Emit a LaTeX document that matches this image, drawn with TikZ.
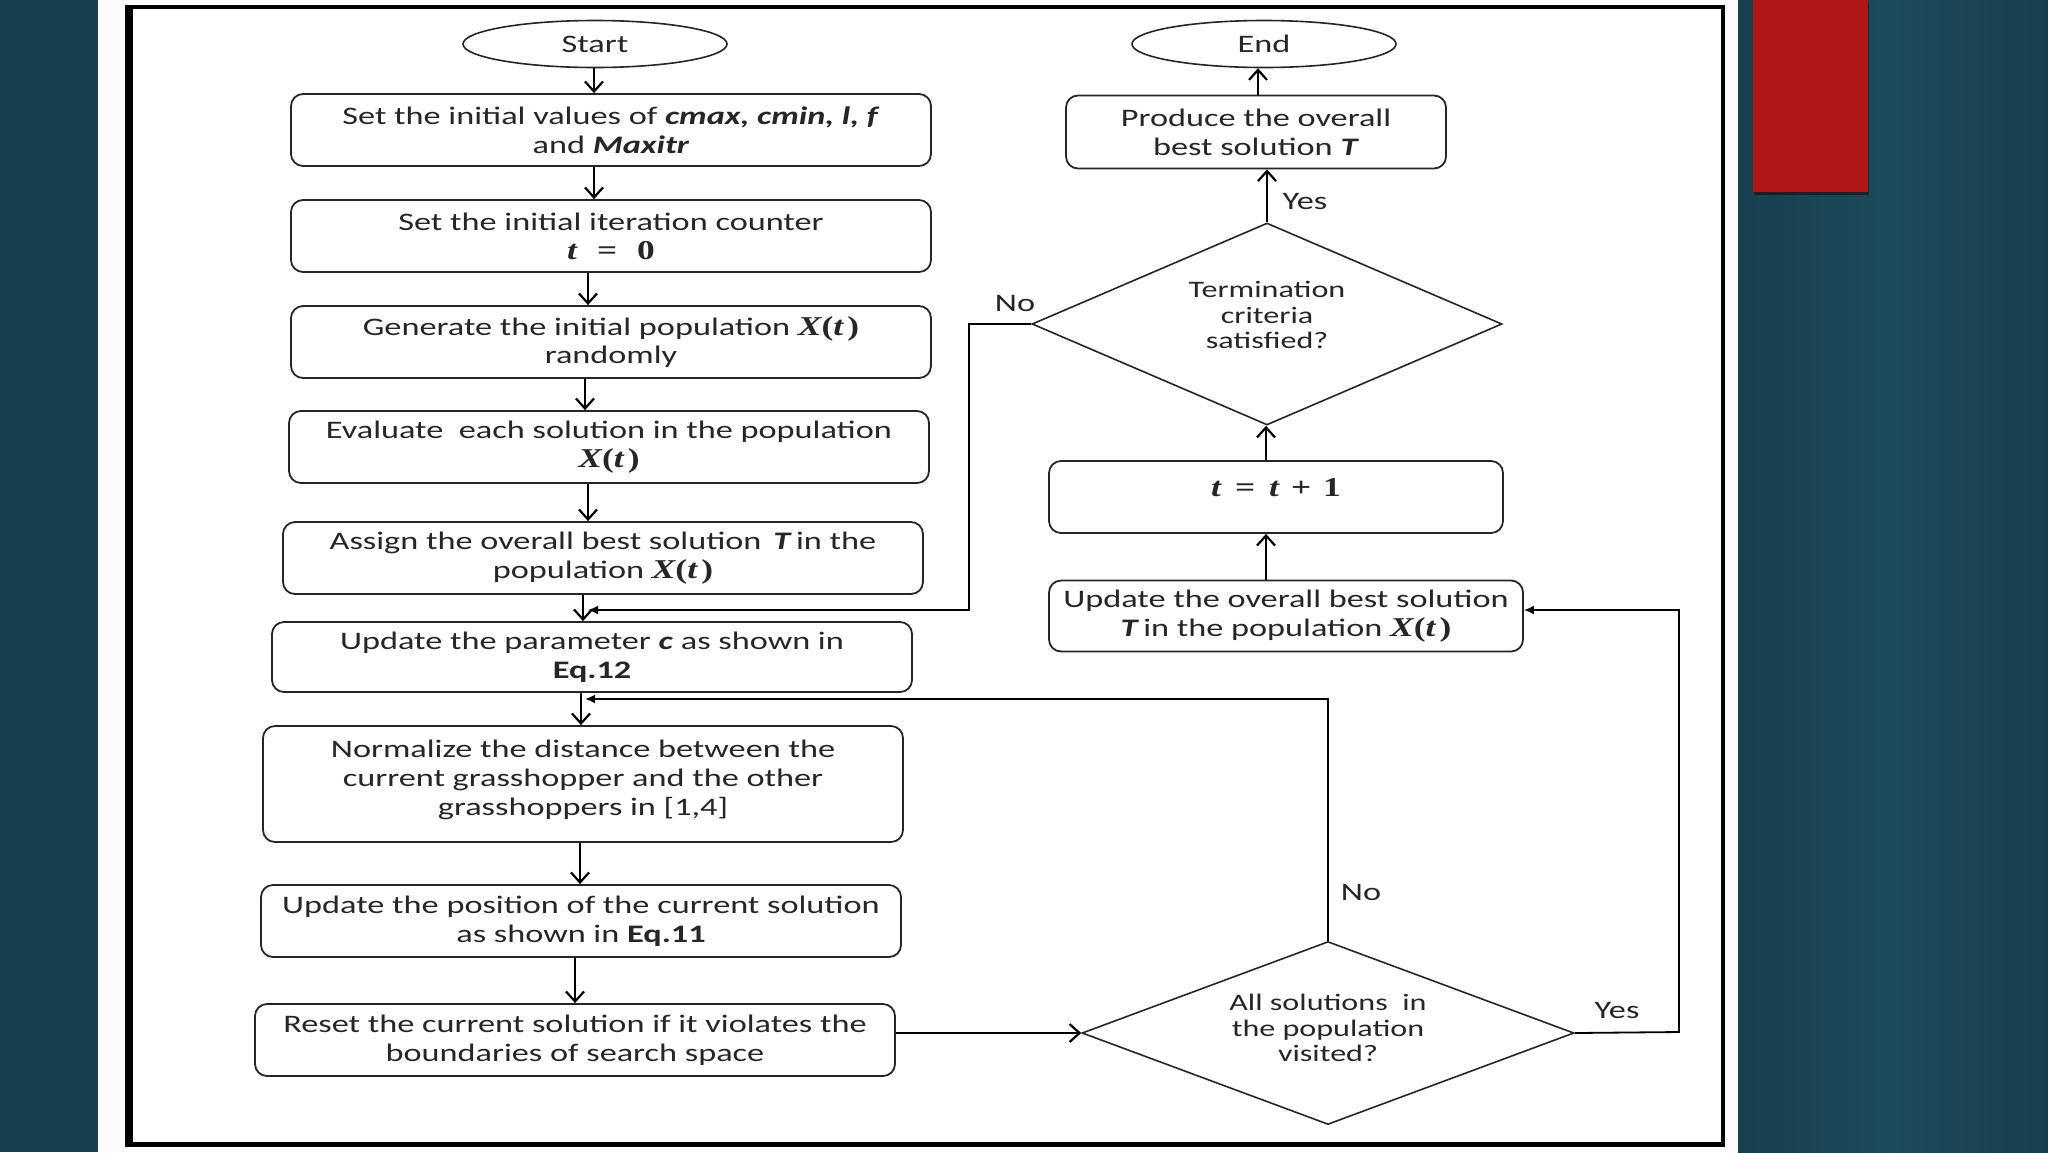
\documentclass[tikz,border=0pt]{standalone}
\usepackage[no-math]{fontspec}
\setmainfont{Carlito}[FakeStretch=1.36]
\newfontfamily\mfont{Liberation Serif}[FakeStretch=1.3]
\usetikzlibrary{arrows.meta,shapes.geometric}
\definecolor{teal1}{HTML}{173F4F}
\definecolor{teal2}{HTML}{1C4B5B}
\definecolor{slidered}{HTML}{B01615}
\definecolor{ink}{HTML}{262626}
\newcommand{\lbl}{\fontsize{12.6}{14.4}\selectfont}
\newcommand{\dlbl}{\fontsize{11.8}{12.8}\selectfont}
\newcommand{\bi}[1]{\textbf{\textit{#1}}}
\newcommand{\mv}[1]{{\mfont\fontsize{13.6}{14.4}\selectfont\bfseries\itshape #1}}
\newcommand{\mr}[1]{{\mfont\fontsize{13.6}{14.4}\selectfont\bfseries #1}}
\newcommand{\Xt}{\mv{X}\mr{(}\mv{t}\,\mr{)}}
\begin{document}
\begin{tikzpicture}[x=0.5pt,y=-0.5pt,
  box/.style={draw=ink, line width=0.9pt, rounded corners=6pt, minimum width=320pt,
    minimum height=36pt, align=center, inner sep=0pt, font=\lbl, text=ink},
  term/.style={draw=ink, line width=0.8pt, ellipse, minimum width=132pt, minimum height=23.5pt,
    inner sep=0pt, font=\lbl, text=ink},
  dec/.style={draw=ink, line width=0.8pt, diamond, inner sep=0pt, align=center, font=\dlbl, text=ink},
  txt/.style={inner sep=0pt, align=center, font=\lbl, text=ink},
  dtxt/.style={inner sep=0pt, align=center, font=\dlbl, text=ink},
  arr/.style={draw=black, line width=1.1pt, -{Straight Barb[length=5pt,width=9pt]}},
  farr/.style={draw=black, line width=0.9pt, -{Latex[length=5pt,width=4.5pt]}},
  lab/.style={inner sep=0pt, font=\lbl, text=ink}]
% background
\useasboundingbox (0,0) rectangle (2048,1152);
\fill[teal1] (0,0) rectangle (2048,1152);
\shade[left color=teal1, right color=teal1, middle color=teal2] (1738,0) rectangle (2048,1152);
\fill[white!97!gray] (98,0) rectangle (1738,1152);
\fill[white] (129,9) rectangle (1721,1143);
\fill[black, opacity=0.45] (1754,2) rectangle (1869,195);
\fill[slidered] (1753,0) rectangle (1868,192);
% frame
\draw[black, line width=2pt] (127,7) rectangle (1723,1145);
\fill[black] (125,5) rectangle (133,1147);
\fill[black] (125,1142) rectangle (1725,1147);
% left column
\node[term] (start) at (595,44) {Start};
\node[box] (b1) at (611,130) {Set the initial values of \bi{cmax, cmin, l, f}\\ and \bi{Maxitr}};
\node[box] (b2) at (611,236) {Set the initial iteration counter\\ \mv{t}\hspace{10pt}\mr{=}\hspace{10pt}\mr{0}};
\node[box] (b3) at (611,342) {Generate the initial population \Xt\\ randomly};
\node[box] (b4) at (609,447) {Evaluate \ each solution in the population\\ \Xt};
\node[box] (b5) at (603,558) {Assign the overall best solution \,\bi{T}\,in the\\ population \Xt};
\node[box, minimum height=35pt] (b6) at (592,657) {Update the parameter \bi{c} as shown in\\ \textbf{Eq.12}};
\node[box, minimum height=58pt] (b7) at (583,784) {};
\node[txt] (b7t) at (583,780) {Normalize the distance between the\\ current grasshopper and the other\\ grasshoppers in [1,4]};
\node[box] (b8) at (581,921) {Update the position of the current solution\\ as shown in \textbf{Eq.11}};
\node[box] (b9) at (575,1040) {Reset the current solution if it violates the\\ boundaries of search space};
% right column
\node[term] (end) at (1264,44) {End};
\node[box, minimum width=190pt, minimum height=36.5pt] (prod) at (1256,132) {Produce the overall\\ best solution \bi{T}};
\node[dec, minimum width=235pt, minimum height=101pt] (td) at (1267,324) {};
\node[dtxt] (tdt) at (1267,315) {Termination\\ criteria\\ satisfied?};
\node[box, minimum width=227pt] (tt) at (1276,497) {};
\node[txt] (ttt) at (1276,488) {\mv{t}\hspace{7pt}\mr{=}\hspace{7pt}\mv{t}\hspace{6pt}\mr{+}\hspace{6pt}\mr{1}};
\node[box, minimum width=237pt, minimum height=35.5pt] (upd) at (1286,616) {Update the overall best solution\\ \bi{T}\,in the population \Xt};
\node[dec, minimum width=246pt, minimum height=91.5pt] (ad) at (1328,1033) {};
\node[dtxt] (adt) at (1328,1028) {All solutions \ in\\ the population\\ visited?};
% helper x positions
\coordinate (x1) at (594,0);
\coordinate (x2) at (594,0);
\coordinate (x3) at (588,0);
\coordinate (x4) at (585,0);
\coordinate (x5) at (588,0);
\coordinate (x6) at (583,0);
\coordinate (x7) at (581,0);
\coordinate (x8) at (580,0);
\coordinate (x9) at (575,0);
\coordinate (xr1) at (1258,0);
\coordinate (xr3) at (1266,0);
% left arrows
\draw[arr] (start.south -| x1) -- (b1.north -| x1);
\draw[arr] (b1.south -| x2) -- (b2.north -| x2);
\draw[arr] (b2.south -| x3) -- (b3.north -| x3);
\draw[arr] (b3.south -| x4) -- (b4.north -| x4);
\draw[arr] (b4.south -| x5) -- (b5.north -| x5);
\draw[arr] (b5.south -| x6) -- (b6.north -| x6);
\draw[arr] (b6.south -| x7) -- (b7.north -| x7);
\draw[arr] (b7.south -| x8) -- (b8.north -| x8);
\draw[arr] (b8.south -| x9) -- (b9.north -| x9);
% right arrows
\draw[arr] (prod.north -| xr1) -- (end.south -| xr1);
\draw[arr] (td.north) -- (prod.south -| td.north);
\draw[arr] (tt.north -| xr3) -- (td.south -| xr3);
\draw[arr] (upd.north -| xr3) -- (tt.south -| xr3);
% loops
\coordinate (j1) at (588,610);
\coordinate (j2) at (585,699);
\draw[farr] (td.west) -- (969,324) -- (969,610) -- (j1);
\draw[farr] (ad.north) -- (ad.north |- j2) -- (j2);
\draw[farr] (ad.east) -- (1679,1032) -- (1679,610) -- (upd.east |- 0,610);
\draw[arr] (b9.east |- ad.west) -- (ad.west);
% labels
\node[lab] at (1015,303) {No};
\node[lab] at (1305,202) {Yes};
\node[lab] at (1361,892) {No};
\node[lab] at (1617,1010) {Yes};
\end{tikzpicture}
\end{document}
